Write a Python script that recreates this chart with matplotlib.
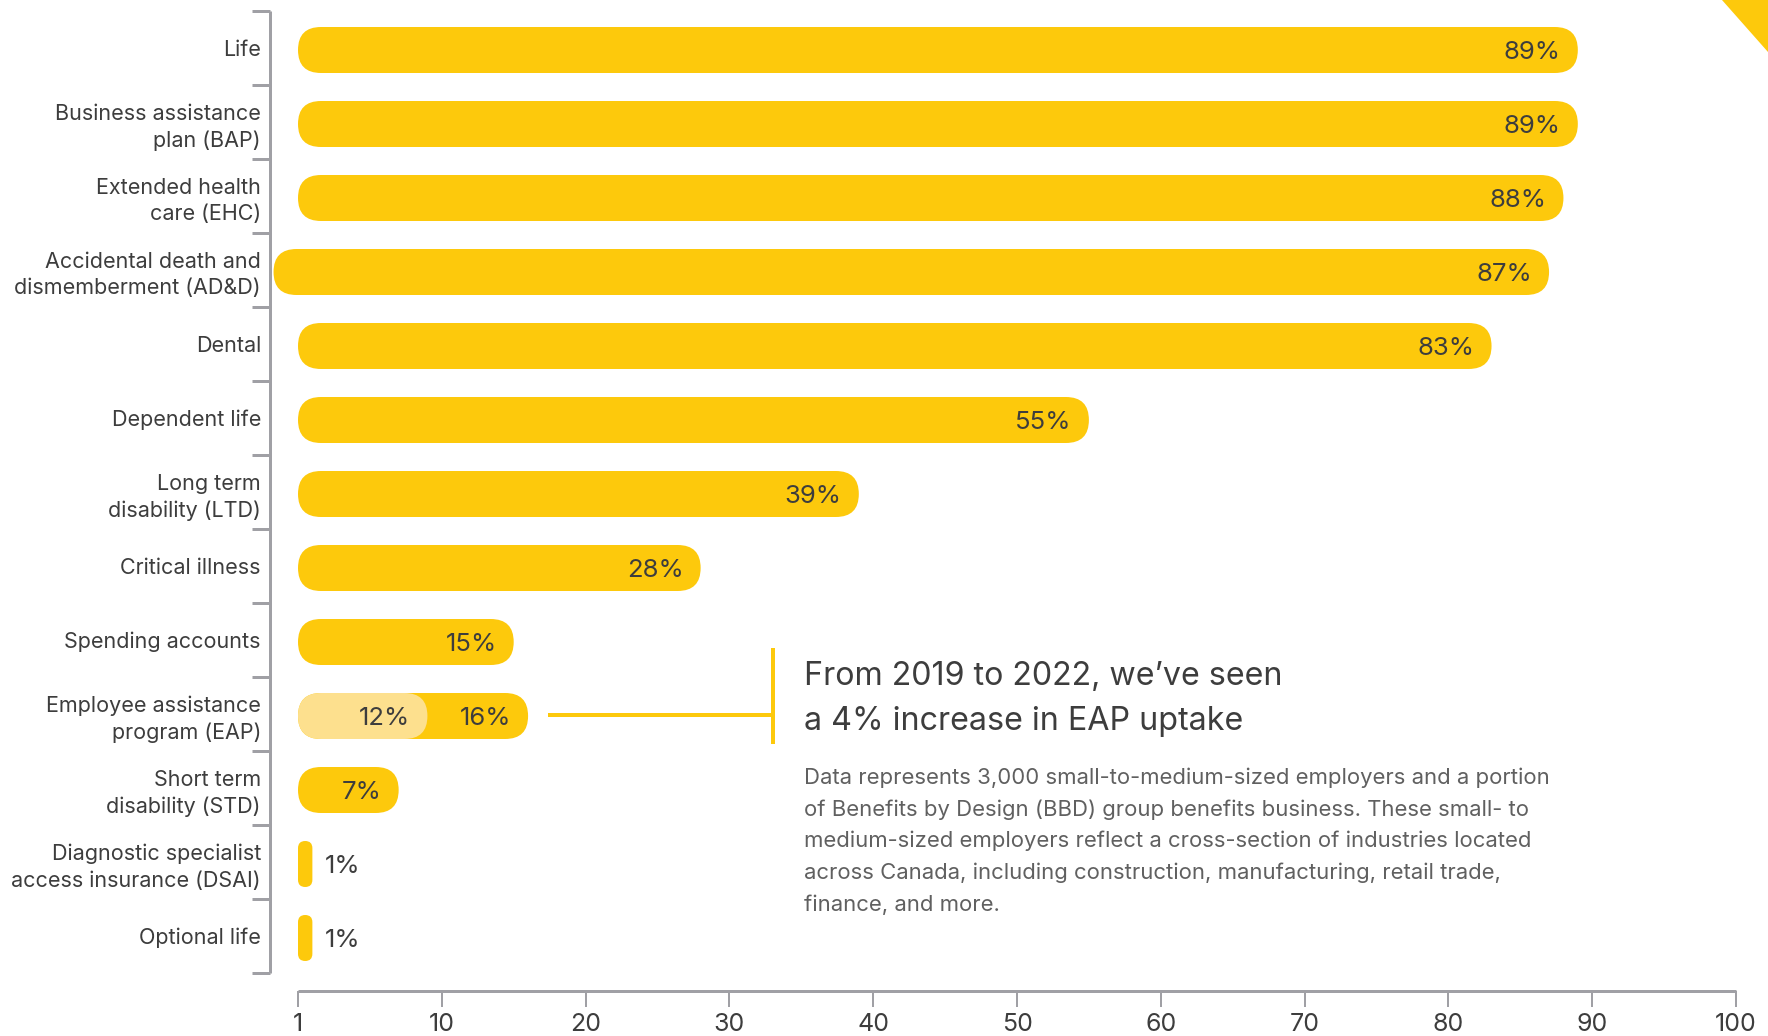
import matplotlib
matplotlib.use('Agg')
import matplotlib.pyplot as plt
from matplotlib.patches import FancyBboxPatch, Polygon
from matplotlib.lines import Line2D
import numpy as np

plt.rcParams['font.family'] = ['Inter', 'DejaVu Sans']

# ---- data ----
categories = [
    "Life",
    "Business assistance\nplan (BAP)",
    "Extended health\ncare (EHC)",
    "Accidental death and\ndismemberment (AD&D)",
    "Dental",
    "Dependent life",
    "Long term\ndisability (LTD)",
    "Critical illness",
    "Spending accounts",
    "Employee assistance\nprogram (EAP)",
    "Short term\ndisability (STD)",
    "Diagnostic specialist\naccess insurance (DSAI)",
    "Optional life",
]
values = [89, 89, 88, 87, 83, 55, 39, 28, 15, 16, 7, 1, 1]
# the AD&D bar starts a little left of the axis in the source
bar_starts = [0, 0, 0, -1.7, 0, 0, 0, 0, 0, 0, 0, 0, 0]
eap_2019 = 12
eap_2019_bar_end = 9   # lighter segment as drawn in the source
x_ticks = [0, 10, 20, 30, 40, 50, 60, 70, 80, 90, 100]
x_tick_labels = ["1", "10", "20", "30", "40", "50", "60", "70", "80", "90", "100"]

heading = ["From 2019 to 2022, we\u2019ve seen", "a 4% increase in EAP uptake"]
note = [
    "Data represents 3,000 small-to-medium-sized employers and a portion",
    "of Benefits by Design (BBD) group benefits business. These small- to",
    "medium-sized employers reflect a cross-section of industries located",
    "across Canada, including construction, manufacturing, retail trade,",
    "finance, and more.",
]

YELLOW = "#FDC90C"
LIGHT = "#FDE08E"
TEXT = "#3d3d3d"
NOTE = "#606060"
GREY = "#a0a0a5"

W, H = 1768, 1036
PT = 72 / 100  # points per pixel


def fx(px):
    return px / W


def fy(py):
    return 1 - py / H


fig = plt.figure(figsize=(W / 100, H / 100), dpi=100)
ax = fig.add_axes([fx(298), fy(973), (1736 - 298) / W, (973 - 11) / H])
n = len(categories)
ax.set_xlim(0, 100)
ax.set_ylim(n - 0.5, -0.5)

o = ax.transData.transform([0, 0])
p = ax.transData.transform([1, 1])
sx, sy = abs(p[0] - o[0]), abs(p[1] - o[1])
bar_h = 46 / sy
dy = 2 / sy  # bars sit a touch below the category centre


def pill(x0, x1, yc, color):
    w = x1 - x0
    r_px = min(w * sx, bar_h * sy) / 2
    patch = FancyBboxPatch((x0, yc + dy - bar_h / 2), w, bar_h,
                           boxstyle=f"round,pad=0,rounding_size={r_px / sx}",
                           mutation_aspect=sx / sy, fc=color, ec="none",
                           clip_on=False)
    ax.add_patch(patch)


lab_kw = dict(fontsize=18.5, color=TEXT, va="center_baseline")
for i, v in enumerate(values):
    pill(bar_starts[i], v, i, YELLOW)
    if v > 3:
        ax.annotate(f"{v}%", (v, i + dy), xytext=(-17 * PT, 0), textcoords="offset points",
                    ha="right", **lab_kw)
    else:
        ax.annotate(f"{v}%", (v, i + dy), xytext=(12 * PT, 0), textcoords="offset points",
                    ha="left", **lab_kw)

# EAP 2019 segment
ieap = categories.index("Employee assistance\nprogram (EAP)")
pill(0, eap_2019_bar_end, ieap, LIGHT)
ax.annotate(f"{eap_2019}%", (eap_2019_bar_end, ieap + dy), xytext=(-17 * PT, 0),
            textcoords="offset points", ha="right", **lab_kw)

# axes styling
for s in ["top", "right"]:
    ax.spines[s].set_visible(False)
ax.spines["left"].set_position(("outward", 28 * PT))
ax.spines["bottom"].set_position(("outward", 18 * PT))
for s in ["left", "bottom"]:
    ax.spines[s].set_color(GREY)
    ax.spines[s].set_linewidth(3 * PT)
    ax.spines[s].set_capstyle("butt")

ax.set_yticks(range(n))
ax.set_yticklabels(categories, fontsize=15.5, color=TEXT, linespacing=1.4)
ax.set_yticks(np.arange(-0.5, n, 1), minor=True)
ax.tick_params(axis="y", which="major", length=0, pad=9 * PT)
ax.tick_params(axis="y", which="minor", length=18 * PT, width=3 * PT, color=GREY)

ax.set_xticks(x_ticks)
ax.set_xticklabels(x_tick_labels, fontsize=18, color=TEXT)
ax.tick_params(axis="x", which="major", length=16 * PT, width=2 * PT, color=GREY, pad=4)
ax.tick_params(axis="x", which="minor", length=0)

# callout connector
fig.add_artist(Line2D([fx(550), fx(773)], [fy(715), fy(715)], color=YELLOW, lw=4 * PT))
fig.add_artist(Line2D([fx(773), fx(773)], [fy(648), fy(744)], color=YELLOW, lw=4 * PT,
                      solid_capstyle="butt"))

for k, line in enumerate(heading):
    fig.text(fx(804), fy(685 + 45 * k), line, fontsize=23.2, color=TEXT, va="baseline")
for k, line in enumerate(note):
    fig.text(fx(804), fy(784 + 31.7 * k), line, fontsize=15.9, color=NOTE, va="baseline")

# corner triangle
fig.add_artist(Polygon([[fx(1722), fy(0)], [fx(1768), fy(0)], [fx(1768), fy(52)]],
                       closed=True, fc=YELLOW, ec="none", transform=fig.transFigure))

fig.savefig("out.png", dpi=100)
